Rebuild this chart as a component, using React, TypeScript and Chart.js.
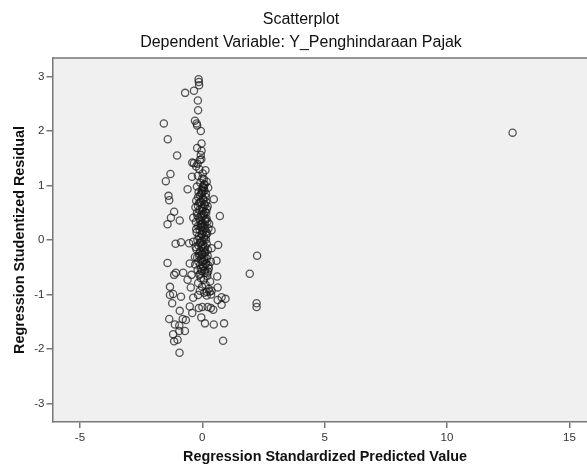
import { useEffect, useRef } from 'react';
import { Chart, registerables } from 'chart.js';

Chart.register(...registerables);

const chartTitle = 'Scatterplot';
const chartSubtitle = 'Dependent Variable: Y_Penghindaraan Pajak';
const xAxisTitle = 'Regression Standardized Predicted Value';
const yAxisTitle = 'Regression Studentized Residual';

const xTicks = [-5, 0, 5, 10, 15];
const yTicks = [-3, -2, -1, 0, 1, 2, 3];

// Regression Standardized Predicted Value (x)
const predictedValues = [
  -0.15, -0.14, -0.13, -0.70, -0.34, -0.18, -0.17, -1.57, -0.30, -0.23,
  -0.21, -0.06, -1.41, -0.03, -0.21, -0.03, -1.03, -0.06, -0.41, -0.34,
  -0.10, 0.13, -1.30, -1.49, -0.42, 0.00, 0.18, -0.60, 0.04, 0.24,
  -1.38, -1.35, -0.17, 0.47, -1.15, -1.28, -0.92, -1.42, -0.37, 0.72,
  0.38, -1.09, -0.87, -0.54, -0.37, -0.27, 0.65, 2.24, -1.42, -0.51,
  -0.30, 0.58, -1.15, -1.08, -0.78, -0.60, -0.44, 0.61, 1.94, -1.32,
  -0.47, 0.63, -1.32, -1.19, -1.23, -0.87, -0.37, -0.17, 0.18, 0.38,
  0.63, 0.79, 0.95, 2.22, 2.22, -0.51, -0.41, -0.92, -0.14, 0.00,
  0.22, 0.35, 0.45, 0.79, -1.35, -0.80, -0.67, -0.04, -1.12, -0.94,
  0.11, 0.47, 0.89, -0.94, -0.71, -1.19, -1.15, -1.01, 0.85, -0.93,
  12.68,
  -0.25, -0.12, 0.02, -0.18, -0.08, 0.10, -0.22, -0.02, -0.15, 0.15,
  -0.10, 0.03, -0.25, -0.05, 0.08, -0.18, 0.22, 0.00, -0.12, 0.12,
  -0.22, -0.04, 0.05, -0.15, 0.18, -0.08, -0.26, 0.01, 0.10, -0.17,
  -0.05, 0.25, -0.11, 0.04, -0.23, -0.02, 0.15, -0.14, -0.07, 0.08,
  -0.20, 0.00, -0.10, 0.18, -0.16, -0.03, 0.06, -0.24, -0.08, 0.12,
  -0.13, 0.01, 0.22, -0.21, -0.05, 0.08, -0.16, 0.16, -0.09, 0.03,
  0.27, -0.19, -0.02, 0.10, -0.12, 0.20, -0.06, 0.06, 0.32, -0.17,
  0.14, -0.01, 0.26, -0.10, 0.08, 0.36, -0.04, -0.19, 0.06, -0.28,
  0.16, 0.28, -0.29, -0.25, 0.35, 0.38,
  -0.14, 0.04, -0.20, 0.12, -0.06, 0.20, -0.12, 0.02, 0.24, -0.08,
  0.30, 0.18, -0.02, 0.06,
  0.02, 0.09, -0.04, 0.14, 0.05, -0.09, 0.11, 0.19, 0.00, 0.07,
  -0.03, 0.13, 0.21, -0.07, 0.04, 0.10, 0.17, -0.01, 0.08, 0.15,
  -0.05, 0.03, 0.12, 0.23, 0.06, -0.02, 0.09, 0.18, 0.01, 0.14,
  0.05, -0.06, 0.11, 0.20, 0.07, 0.02, 0.16, -0.03, 0.10, 0.25,
];

// Regression Studentized Residual (y)
const residualValues = [
  2.95, 2.90, 2.84, 2.70, 2.74, 2.56, 2.38, 2.14, 2.19, 2.14,
  2.10, 2.00, 1.85, 1.77, 1.69, 1.64, 1.55, 1.56, 1.42, 1.41,
  1.47, 1.28, 1.21, 1.08, 1.16, 1.13, 1.07, 0.93, 0.97, 0.96,
  0.81, 0.73, 0.79, 0.75, 0.52, 0.41, 0.36, 0.29, 0.41, 0.44,
  0.18, -0.07, -0.04, -0.06, -0.03, -0.13, -0.09, -0.29, -0.42, -0.43,
  -0.31, -0.38, -0.64, -0.60, -0.60, -0.73, -0.64, -0.67, -0.62, -0.86,
  -0.87, -0.87, -1.01, -0.99, -1.16, -1.04, -1.06, -1.01, -0.95, -0.93,
  -1.10, -1.05, -1.08, -1.16, -1.23, -1.22, -1.34, -1.30, -1.25, -1.23,
  -1.23, -1.25, -1.28, -1.19, -1.45, -1.45, -1.47, -1.42, -1.55, -1.57,
  -1.53, -1.55, -1.53, -1.67, -1.67, -1.73, -1.86, -1.83, -1.85, -2.07,
  1.97,
  1.35, 1.30, 1.22, 1.18, 1.05, 1.02, 0.98, 0.92, 0.88, 0.85,
  0.82, 0.76, 0.72, 0.70, 0.66, 0.63, 0.62, 0.58, 0.55, 0.52,
  0.50, 0.47, 0.44, 0.41, 0.39, 0.36, 0.33, 0.31, 0.28, 0.26,
  0.23, 0.21, 0.19, 0.16, 0.14, 0.11, 0.09, 0.07, 0.04, 0.02,
  0.00, -0.02, -0.05, -0.07, -0.10, -0.12, -0.15, -0.17, -0.20, -0.22,
  -0.25, -0.27, -0.29, -0.32, -0.35, -0.37, -0.40, -0.43, -0.46, -0.49,
  -0.52, -0.55, -0.57, -0.60, -0.64, -0.66, -0.70, -0.73, -0.76, -0.79,
  -0.82, -0.86, -0.90, -0.93, -0.97, -1.00, 1.48, 1.40, 1.12, 0.60,
  0.70, 0.30, -0.45, 0.20, -0.40, -0.15,
  0.68, 0.60, 0.45, 0.35, 0.28, 0.12, -0.30, -0.40, -0.58, -0.62,
  -0.95, -1.02, 0.85, 0.95,
  0.98, 0.91, 0.86, 0.79, 0.74, 0.69, 0.64, 0.57, 0.53, 0.48,
  0.43, 0.38, 0.34, 0.29, 0.25, 0.21, 0.15, 0.10, 0.06, 0.01,
  -0.04, -0.08, -0.13, -0.18, -0.21, -0.26, -0.31, -0.34, -0.39, -0.44,
  -0.48, -0.53, -0.56, -0.61, 1.02, 0.89, 0.50, 0.24, -0.24, -0.47,
];

const FONT = '"Liberation Sans", Arial, sans-serif';

export default function App() {
  const canvasRef = useRef<HTMLCanvasElement | null>(null);

  useEffect(() => {
    document.body.style.margin = '0';
    const canvas = canvasRef.current;
    if (!canvas) return;

    const points = predictedValues.map((x, i) => ({ x, y: residualValues[i] }));

    const decor = {
      id: 'decor',
      beforeDraw(chart: any) {
        const { ctx, chartArea: a } = chart;
        ctx.save();
        ctx.fillStyle = '#f0f0f0';
        ctx.fillRect(a.left, a.top, a.right - a.left, a.bottom - a.top);
        ctx.restore();
      },
      afterDraw(chart: any) {
        const { ctx, chartArea: a } = chart;
        ctx.save();
        ctx.strokeStyle = '#777';
        ctx.lineWidth = 1.5;
        ctx.beginPath();
        ctx.moveTo(a.left, a.top);
        ctx.lineTo(a.right, a.top);
        ctx.stroke();

        ctx.fillStyle = '#111';
        ctx.textAlign = 'center';
        ctx.textBaseline = 'alphabetic';
        ctx.font = `16px ${FONT}`;
        ctx.fillText(chartTitle, 301, 24);
        ctx.fillText(chartSubtitle, 301, 47);

        ctx.font = `bold 14.4px ${FONT}`;
        ctx.fillText(xAxisTitle, 325, 461);

        ctx.translate(24, 240);
        ctx.rotate(-Math.PI / 2);
        ctx.fillText(yAxisTitle, 0, 0);
        ctx.restore();
      },
    };

    const chart = new Chart(canvas, {
      type: 'scatter',
      data: {
        datasets: [
          {
            data: points,
            pointStyle: 'circle',
            pointRadius: 3.6,
            pointHoverRadius: 3.6,
            pointBorderWidth: 1.3,
            borderColor: 'rgba(25,25,25,0.72)',
            backgroundColor: 'rgba(0,0,0,0)',
          },
        ],
      },
      options: {
        responsive: false,
        animation: false,
        events: [],
        layout: { autoPadding: false, padding: { top: 58, left: 0, right: 0, bottom: 0 } },
        plugins: { legend: { display: false }, tooltip: { enabled: false }, title: { display: false } },
        scales: {
          x: {
            type: 'linear',
            min: -6.12,
            max: 15.72,
            afterBuildTicks: (s: any) => {
              s.ticks = xTicks.map((v) => ({ value: v }));
            },
            afterFit: (s: any) => {
              s.height = 43;
            },
            grid: { drawOnChartArea: false, drawTicks: true, tickLength: 6, color: '#777', lineWidth: 1.5 },
            border: { display: true, color: '#777', width: 1.5 },
            ticks: { color: '#333', font: { family: FONT, size: 11.5 }, padding: 3, maxRotation: 0, autoSkip: false },
          },
          y: {
            type: 'linear',
            min: -3.34,
            max: 3.34,
            afterBuildTicks: (s: any) => {
              s.ticks = yTicks.map((v) => ({ value: v }));
            },
            afterFit: (s: any) => {
              s.width = 52.5;
            },
            grid: { drawOnChartArea: false, drawTicks: true, tickLength: 6, color: '#777', lineWidth: 1.5 },
            border: { display: true, color: '#777', width: 1.5 },
            ticks: { color: '#333', font: { family: FONT, size: 11.5 }, padding: 2, autoSkip: false },
          },
        },
      },
      plugins: [decor],
    });

    return () => chart.destroy();
  }, []);

  return (
    <div style={{ width: 587, height: 465 }}>
      <canvas ref={canvasRef} width={587} height={465} style={{ display: 'block' }} />
    </div>
  );
}
